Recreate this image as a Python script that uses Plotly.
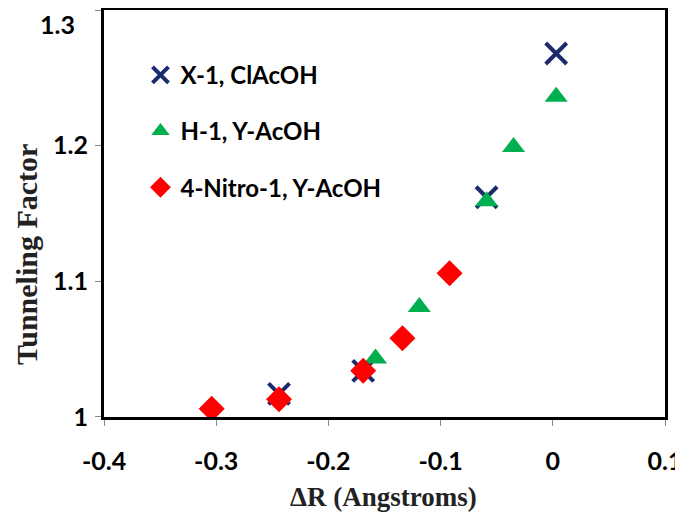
import plotly.graph_objects as go

x1_x = [0.003, -0.059, -0.169, -0.244]
x1_y = [1.268, 1.162, 1.034, 1.017]

h1_x = [0.003, -0.035, -0.059, -0.119, -0.158]
h1_y = [1.236, 1.199, 1.159, 1.081, 1.043]

n1_x = [-0.304, -0.244, -0.169, -0.134, -0.092]
n1_y = [1.006, 1.013, 1.034, 1.058, 1.106]

x_ticks = [-0.4, -0.3, -0.2, -0.1, 0, 0.1]
x_tick_labels = ["-0.4", "-0.3", "-0.2", "-0.1", "0", "0.1"]
y_ticks = [1.0, 1.1, 1.2, 1.3]
y_tick_labels = ["1", "1.1", "1.2", "1.3"]

tick_font = dict(family="Lato", size=25, color="black", weight="bold")

# page has an 8px body margin, so figure is 675x508 placed at (8,8)
W, H = 675, 508
L, R, T, B = 96, 18, 2, 99
pw = W - L - R
ph = H - T - B

fig = go.Figure()
fig.add_trace(go.Scatter(x=x1_x, y=x1_y, mode="markers", name="X-1, ClAcOH", legendgroup="a",
                         marker=dict(symbol="x-thin", size=21, color="#1a2a6c",
                                     line=dict(width=4, color="#1a2a6c"))))
fig.add_trace(go.Scatter(x=h1_x, y=h1_y, mode="markers", name="H-1, Y-AcOH", legendgroup="b",
                         marker=dict(symbol="triangle-up", size=20, color="#00b050")))
fig.add_trace(go.Scatter(x=n1_x, y=n1_y, mode="markers", name="4-Nitro-1, Y-AcOH", legendgroup="c",
                         marker=dict(symbol="diamond", size=20, color="#ff0000")))

# top tick label would be clipped at the page edge, so draw it as an annotation just inside
shown_y_labels = y_tick_labels[:-1] + [""]

fig.update_layout(
    width=W, height=H,
    margin=dict(l=L, r=R, t=T, b=B),
    paper_bgcolor="white", plot_bgcolor="white",
    showlegend=True,
    legend=dict(x=0.065, y=0.895, xanchor="left", yanchor="top",
                bgcolor="rgba(0,0,0,0)", tracegroupgap=22, itemsizing="trace",
                font=dict(family="Lato", size=24, color="black", weight="bold")),
    xaxis=dict(range=[-0.4, 0.1], tickvals=x_ticks, ticktext=x_tick_labels,
               showgrid=False, zeroline=False, showline=True, linecolor="black",
               linewidth=3, mirror=True, ticks="outside", tickcolor="#888888",
               ticklen=6, tickwidth=1, automargin=False, ticklabeloverflow="allow",
               ticklabelstandoff=14, tickfont=tick_font),
    yaxis=dict(range=[0.99995, 1.30005], tickvals=y_ticks, ticktext=shown_y_labels,
               showgrid=False, zeroline=False, showline=True, linecolor="black",
               linewidth=3, mirror=True, ticks="outside", tickcolor="#888888",
               ticklen=6, tickwidth=1, automargin=False, ticklabeloverflow="allow",
               ticklabelstandoff=2, tickfont=tick_font),
    annotations=[
        dict(text=y_tick_labels[-1], xref="paper", yref="paper",
             x=-(L - 76 + 8) / pw, y=1 + T / ph, height=30, valign="middle",
             borderpad=0, xanchor="right", yanchor="top", showarrow=False, font=tick_font),
        dict(text="ΔR (Angstroms)", xref="paper", yref="paper",
             x=(383 - 8 - L) / pw, y=-(497 - 8 - (T + ph)) / ph,
             xanchor="center", yanchor="middle", showarrow=False,
             font=dict(family="Liberation Serif", size=27, color="#222222", weight="bold")),
        dict(text="Tunneling Factor", xref="paper", yref="paper", textangle=-90,
             x=-(L - 18) / pw, y=1 - (255 - 8 - T) / ph,
             xanchor="center", yanchor="middle", showarrow=False,
             font=dict(family="Liberation Serif", size=30, color="#222222", weight="bold")),
    ],
)

fig.write_html("out.html")
